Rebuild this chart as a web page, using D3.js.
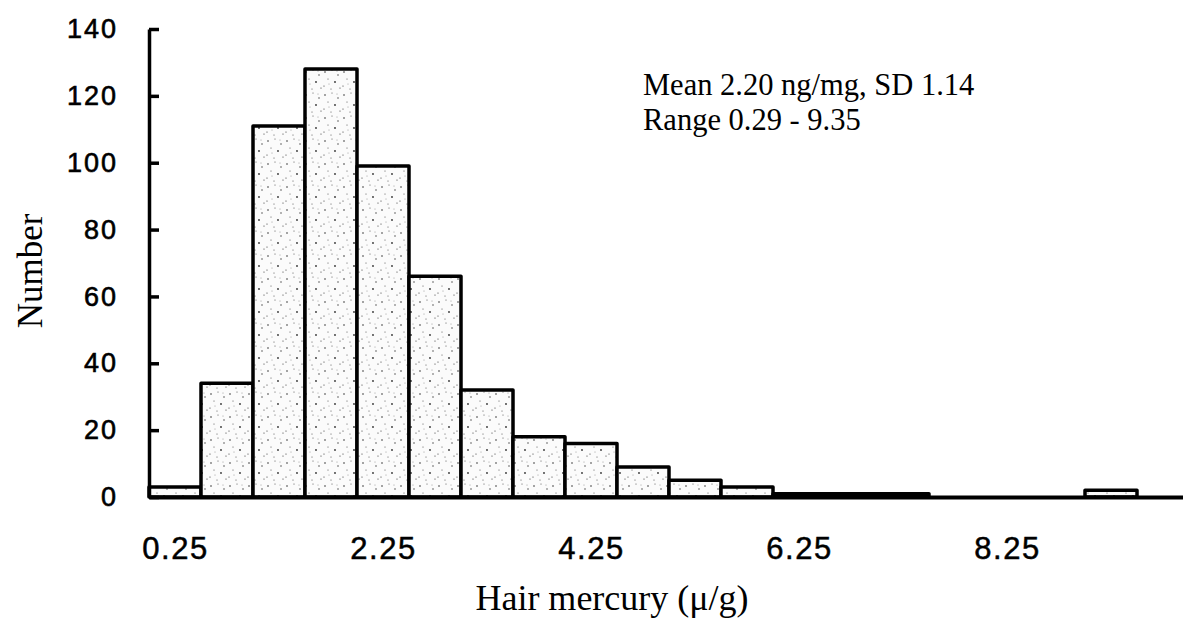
<!DOCTYPE html>
<html>
<head>
<meta charset="utf-8">
<script src="https://cdn.jsdelivr.net/npm/d3@7"></script>
<style>
  body { margin: 0; background: #fff; }
  .tick-label { font-family: "Liberation Sans", Arial, sans-serif; fill: #000; }
  .serif { font-family: "Liberation Serif", "Times New Roman", serif; fill: #000; }
</style>
</head>
<body>
<div id="figure-container"></div>
<script>
// histogram bins (lower edge, ug/g) and counts
var binStart = [0.0, 0.5, 1.0, 1.5, 2.0, 2.5, 3.0, 3.5, 4.0, 4.5,
                5.0, 5.5, 6.0, 6.5, 7.0, 7.5, 8.0, 8.5, 9.0];
var counts = [3, 34, 111, 128, 99, 66, 32, 18, 16, 9,
              5, 3, 1, 1, 1, 0, 0, 0, 2];
var binWidth = 0.5;

var xTicks = [0.25, 2.25, 4.25, 6.25, 8.25];
var yTicks = [0, 20, 40, 60, 80, 100, 120, 140];

var notes = ['Mean 2.20 ng/mg, SD 1.14', 'Range 0.29 - 9.35'];

var fullWidth = 1183;
var fullHeight = 621;

var xScale = d3.scaleLinear()
  .domain([0, 10])
  .range([149, 1189]);

var yScale = d3.scaleLinear()
  .domain([0, 140])
  .range([497, 29]);

var svg = d3.select('#figure-container')
  .append('svg')
  .attr('width', fullWidth)
  .attr('height', fullHeight);

// stippled fill like the scanned print
var pat = svg.append('defs').append('pattern')
  .attr('id', 'stipple')
  .attr('patternUnits', 'userSpaceOnUse')
  .attr('width', 19)
  .attr('height', 23);
pat.append('rect').attr('width', 19).attr('height', 23).attr('fill', '#fbfbfb');
var dots = [[2, 3, 0.8], [9, 1, 0.5], [15, 6, 0.7], [5, 10, 0.5], [12, 13, 0.9],
            [1, 17, 0.6], [8, 20, 0.5], [17, 19, 0.6], [14, 2, 0.4], [6, 15, 0.4]];
pat.selectAll('circle')
  .data(dots)
  .enter()
    .append('circle')
    .attr('cx', function(d) { return d[0]; })
    .attr('cy', function(d) { return d[1]; })
    .attr('r', function(d) { return d[2]; })
    .attr('fill', '#333');

var bars = binStart.map(function(s, i) { return {x0: s, x1: s + binWidth, n: counts[i]}; });

svg.append('g')
  .attr('class', 'bars')
  .selectAll('rect')
  .data(bars.filter(function(d) { return d.n > 0; }))
  .enter()
    .append('rect')
    .attr('x', function(d) { return xScale(d.x0); })
    .attr('y', function(d) { return yScale(d.n); })
    .attr('width', function(d) { return xScale(d.x1) - xScale(d.x0); })
    .attr('height', function(d) { return yScale(0) - yScale(d.n); })
    .attr('fill', 'url(#stipple)')
    .attr('stroke', '#000')
    .attr('stroke-width', 3.5)
    .attr('stroke-linejoin', 'round');

var xAxis = d3.axisBottom(xScale)
  .tickValues(xTicks)
  .tickFormat(d3.format('.2f'))
  .tickSize(0)
  .tickPadding(40);

var yAxis = d3.axisLeft(yScale)
  .tickValues(yTicks)
  .tickSizeInner(-10)
  .tickSizeOuter(0)
  .tickPadding(31);

var gx = svg.append('g')
  .attr('class', 'axis x')
  .attr('transform', 'translate(0,' + yScale(0) + ')')
  .call(xAxis);
gx.select('.domain').attr('stroke', '#000').attr('stroke-width', 4);
gx.selectAll('text')
  .attr('class', 'tick-label')
  .attr('font-size', 31)
  .attr('letter-spacing', 1.5)
  .attr('stroke', '#000')
  .attr('stroke-width', 0.5);

var gy = svg.append('g')
  .attr('class', 'axis y')
  .attr('transform', 'translate(' + xScale(0) + ',0)')
  .call(yAxis);
gy.select('.domain').attr('stroke', '#000').attr('stroke-width', 3.5);
gy.selectAll('.tick line').attr('stroke', '#000').attr('stroke-width', 3.5);
gy.selectAll('text')
  .attr('class', 'tick-label')
  .attr('font-size', 27)
  .attr('letter-spacing', 2)
  .attr('stroke', '#000')
  .attr('stroke-width', 0.6);

// axis titles
svg.append('text')
  .attr('class', 'serif')
  .attr('x', 612)
  .attr('y', 610)
  .attr('text-anchor', 'middle')
  .attr('font-size', 36)
  .text('Hair mercury (\u03bc/g)');

svg.append('text')
  .attr('class', 'serif')
  .attr('transform', 'translate(42,271) rotate(-90)')
  .attr('text-anchor', 'middle')
  .attr('font-size', 35)
  .text('Number');

svg.append('g')
  .selectAll('text')
  .data(notes)
  .enter()
    .append('text')
    .attr('class', 'serif')
    .attr('x', 643)
    .attr('y', function(d, i) { return 95 + i * 35; })
    .attr('font-size', 30.5)
    .text(function(d) { return d; });
</script>
</body>
</html>
